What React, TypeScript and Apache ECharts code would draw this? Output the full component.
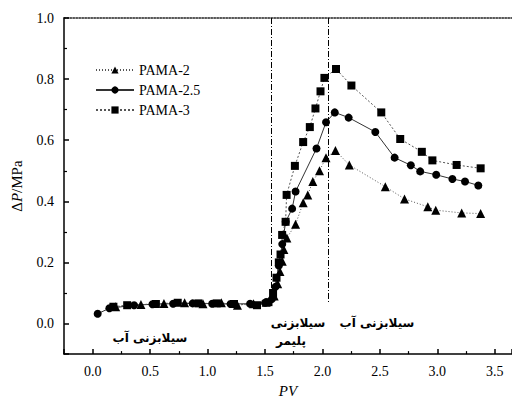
import React, { useEffect, useRef } from "react";
import * as echarts from "echarts";

const seriesNames = ["PAMA-2", "PAMA-2.5", "PAMA-3"];

const pama2PV = [0.2, 0.42, 0.62, 0.8, 0.96, 1.12, 1.26, 1.4, 1.51, 1.58, 1.61, 1.63, 1.65, 1.664, 1.69, 1.766, 1.832, 1.872, 1.916, 1.974, 2.031, 2.113, 2.234, 2.547, 2.714, 2.917, 2.986, 3.212, 3.377];
const pama2DP = [0.055, 0.062, 0.066, 0.068, 0.065, 0.068, 0.06, 0.065, 0.07, 0.09, 0.13, 0.17, 0.204, 0.242, 0.28, 0.325, 0.395, 0.421, 0.465, 0.5, 0.543, 0.566, 0.519, 0.448, 0.408, 0.382, 0.371, 0.362, 0.36];

const pama25PV = [0.043, 0.145, 0.36, 0.52, 0.7, 0.87, 1.04, 1.2, 1.37, 1.5, 1.56, 1.59, 1.62, 1.65, 1.68, 1.736, 1.766, 1.948, 2.031, 2.107, 2.228, 2.46, 2.628, 2.769, 2.851, 2.99, 3.131, 3.241, 3.357];
const pama25DP = [0.032, 0.05, 0.06, 0.063, 0.065, 0.066, 0.065, 0.064, 0.065, 0.068, 0.08, 0.12, 0.19, 0.26, 0.333, 0.376, 0.432, 0.573, 0.659, 0.691, 0.674, 0.627, 0.543, 0.518, 0.498, 0.487, 0.473, 0.465, 0.452];

const pama3PV = [0.18, 0.3, 0.55, 0.74, 0.92, 1.08, 1.23, 1.43, 1.53, 1.57, 1.6, 1.62, 1.635, 1.649, 1.679, 1.688, 1.76, 1.832, 1.89, 1.939, 1.983, 2.017, 2.118, 2.252, 2.512, 2.677, 2.865, 2.957, 3.168, 3.377];
const pama3DP = [0.055, 0.06, 0.064, 0.068, 0.066, 0.066, 0.064, 0.06, 0.07, 0.1, 0.15, 0.2, 0.226, 0.29, 0.333, 0.421, 0.516, 0.594, 0.643, 0.704, 0.76, 0.804, 0.833, 0.779, 0.691, 0.604, 0.562, 0.534, 0.519, 0.508];

const stageLines = [1.554, 2.049];

const zip = (a: number[], b: number[]) => a.map((v, i) => [v, b[i]]);

const serif = "'Liberation Serif', 'DejaVu Serif', serif";
const persianFont = "'DejaVu Sans', 'Noto Sans', sans-serif";

export default function App() {
  const ref = useRef<HTMLDivElement>(null);
  useEffect(() => {
    if (!ref.current) return;
    const chart = echarts.init(ref.current, undefined, { renderer: "svg" });
    const lineColor = "#555";
    const common = {
      type: "line",
      symbolSize: 8,
      itemStyle: { color: "#000" },
      emphasis: { disabled: true },
    };
    const pText = (text: string, x: number, y: number) => ({
      type: "text",
      x,
      y,
      style: { text, font: `bold 12px ${persianFont}`, fill: "#000", align: "center", verticalAlign: "middle" },
    });
    chart.setOption({
      animation: false,
      backgroundColor: "#fff",
      grid: { left: 64, top: 18, right: 0, bottom: 44 },
      legend: {
        orient: "vertical",
        left: 90,
        top: 58,
        itemWidth: 38,
        itemHeight: 9,
        itemGap: 6,
        data: seriesNames,
        textStyle: { fontFamily: serif, fontSize: 14, color: "#000" },
      },
      xAxis: [
        {
          type: "value",
          min: -0.25,
          max: 3.65,
          splitNumber: 8,
          name: "PV",
          nameLocation: "middle",
          nameGap: 28,
          nameTextStyle: { fontFamily: serif, fontStyle: "italic", fontSize: 15, color: "#000" },
          axisLine: { onZero: false, lineStyle: { color: "#000", width: 1.5 } },
          axisTick: { inside: true, length: 5, lineStyle: { color: "#000", width: 1.5 } },
          minorTick: { show: true, splitNumber: 2, length: 3, lineStyle: { color: "#000", width: 1.2 } },
          axisLabel: {
            showMinLabel: false,
            showMaxLabel: false,
            margin: 10,
            fontFamily: serif,
            fontSize: 14,
            color: "#000",
            formatter: (v: number) => v.toFixed(1),
          },
          splitLine: { show: false },
        },
        {
          type: "value",
          position: "top",
          min: -0.25,
          max: 3.65,
          axisLine: { show: true, onZero: false, lineStyle: { color: "#222", width: 1.5, type: "dotted" } },
          axisTick: { show: false },
          axisLabel: { show: false },
          splitLine: { show: false },
        },
      ],
      yAxis: {
        type: "value",
        min: -0.1,
        max: 1.0,
        splitNumber: 5,
        name: "{d|Δ}{p|P}{d|/MPa}",
        nameLocation: "middle",
        nameGap: 40,
        nameRotate: 90,
        nameTextStyle: {
          color: "#000",
          rich: {
            d: { fontFamily: serif, fontSize: 15, color: "#000" },
            p: { fontFamily: serif, fontSize: 15, fontStyle: "italic", color: "#000" },
          },
        },
        axisLine: { onZero: false, lineStyle: { color: "#000", width: 1.5 } },
        axisTick: { inside: true, length: 5, lineStyle: { color: "#000", width: 1.5 } },
        minorTick: { show: true, splitNumber: 2, length: 3, lineStyle: { color: "#000", width: 1.2 } },
        axisLabel: {
          showMinLabel: false,
          margin: 10,
          fontFamily: serif,
          fontSize: 14,
          color: "#000",
          formatter: (v: number) => v.toFixed(1),
        },
        splitLine: { show: false },
      },
      series: [
        {
          ...common,
          name: seriesNames[0],
          symbol: "triangle",
          symbolSize: 9,
          data: zip(pama2PV, pama2DP),
          lineStyle: { color: lineColor, width: 1, type: [1, 2] },
          markLine: {
            silent: true,
            symbol: "none",
            label: { show: false },
            lineStyle: { color: "#000", width: 1, type: [6, 2, 1, 2] },
            data: stageLines.map((x) => [
              { coord: [x, 1.0] },
              { coord: [x, 0.07] },
            ]),
          },
        },
        {
          ...common,
          name: seriesNames[1],
          symbol: "circle",
          data: zip(pama25PV, pama25DP),
          lineStyle: { color: "#333", width: 1, type: "solid" },
        },
        {
          ...common,
          name: seriesNames[2],
          symbol: "rect",
          data: zip(pama3PV, pama3DP),
          lineStyle: { color: lineColor, width: 1, type: [2, 2] },
        },
      ],
      graphic: [
        pText("سیلابزنی آب", 150, 338),
        pText("سیلابزنی", 298, 323),
        pText("پلیمر", 291, 341),
        pText("سیلابزنی آب", 377, 323),
      ],
    });
    return () => chart.dispose();
  }, []);
  return <div ref={ref} style={{ width: 512, height: 403, position: "absolute", left: 0, top: 0 }} />;
}
